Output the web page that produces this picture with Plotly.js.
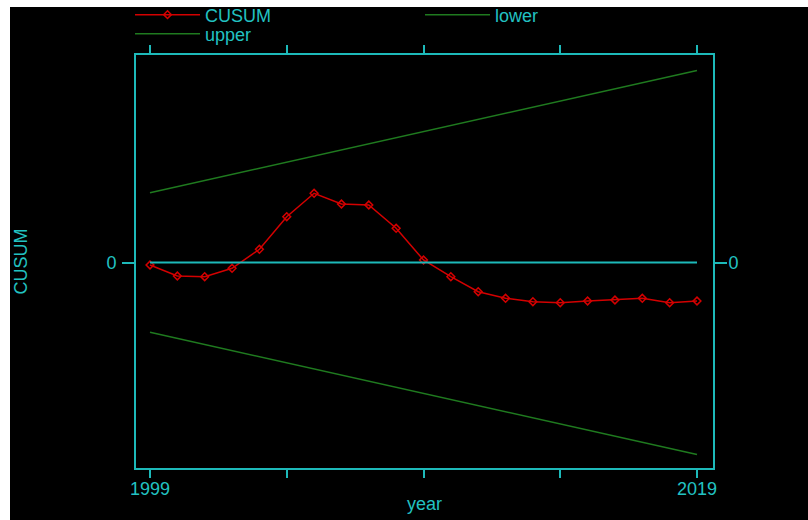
<!DOCTYPE html>
<html><head><meta charset="utf-8">
<script src="https://cdn.plot.ly/plotly-3.0.1.min.js"></script>
<style>
html,body{margin:0;padding:0;background:#fff;width:808px;height:520px;overflow:hidden}
#chart{position:absolute;left:10px;top:7px;width:798px;height:513px}
</style></head>
<body><div id="chart"></div>
<script>
const years = [1999,2000,2001,2002,2003,2004,2005,2006,2007,2008,2009,2010,2011,2012,2013,2014,2015,2016,2017,2018,2019];
const cusum = [-0.25,-1.35,-1.42,-0.58,1.32,4.58,6.92,5.85,5.75,3.42,0.25,-1.42,-2.92,-3.58,-3.92,-4.02,-3.85,-3.75,-3.58,-4.02,-3.85];
const boundYears = [1999, 2019];
const upper = [6.98, 19.2];
const lower = [-6.98, -19.2];
const zeroYears = [1999, 2019];
const zeroLine = [0, 0];
const xTickVals = [1999, 2004, 2009, 2014, 2019];
const xTickText = ['1999', '', '', '', '2019'];
const yTickVals = [0];
const yTickText = ['0'];
const yTitle = 'CUSUM';

const RED = '#d40000', GREEN = '#1f7a1f', CYAN = '#1db9b9', TXT = '#22c2c2';
const FONT = 'Liberation Sans, Arial, sans-serif';

const traces = [
  {x: years, y: cusum, name: 'CUSUM', type: 'scatter', mode: 'lines+markers',
   line: {color: RED, width: 1.5}, marker: {symbol: 'diamond-open', size: 6, color: RED, line: {width: 1.5}},
   legend: 'legend'},
  {x: boundYears, y: lower, name: 'lower', type: 'scatter', mode: 'lines',
   line: {color: GREEN, width: 1.5}, legend: 'legend2'},
  {x: boundYears, y: upper, name: 'upper', type: 'scatter', mode: 'lines',
   line: {color: GREEN, width: 1.5}, legend: 'legend3'},
  {x: zeroYears, y: zeroLine, type: 'scatter', mode: 'lines', yaxis: 'y2',
   line: {color: CYAN, width: 2}, showlegend: false, hoverinfo: 'skip'}
];

const yr = [-20.55, 20.75];
const legBase = {xref: 'container', yref: 'container', xanchor: 'left', yanchor: 'middle',
  bgcolor: 'rgba(0,0,0,0)', itemwidth: 65, font: {size: 18, color: TXT}};
const layout = {
  width: 798, height: 513,
  paper_bgcolor: '#000', plot_bgcolor: '#000',
  margin: {l: 126, r: 95, t: 48, b: 52, autoexpand: false},
  font: {family: FONT, size: 18, color: TXT},
  showlegend: true,
  xaxis: {range: [1998.488, 2019.585], tickvals: xTickVals, ticktext: xTickText,
    showline: true, linecolor: CYAN, linewidth: 2, mirror: 'ticks',
    ticks: 'outside', ticklen: 8, tickwidth: 2, tickcolor: CYAN, ticklabelstandoff: -5,
    showgrid: false, zeroline: false, tickfont: {size: 18, color: TXT},
    title: {text: 'year', font: {size: 18, color: TXT}, standoff: 0}},
  yaxis: {range: yr, tickvals: yTickVals, ticktext: yTickText,
    showline: true, linecolor: CYAN, linewidth: 2, mirror: 'ticks',
    ticks: 'outside', ticklen: 12, tickwidth: 2, tickcolor: CYAN, ticklabelstandoff: 2,
    showgrid: false, zeroline: false, tickfont: {size: 18, color: TXT}},
  yaxis2: {range: yr, overlaying: 'y', side: 'right', tickvals: yTickVals, ticktext: yTickText,
    showline: false, ticks: 'outside', ticklen: 8, tickwidth: 2, tickcolor: CYAN, ticklabelstandoff: 3,
    showgrid: false, zeroline: false, tickfont: {size: 18, color: TXT}},
  annotations: [{text: yTitle, xref: 'paper', yref: 'paper', x: 0, y: 0.5, xshift: -116,
    xanchor: 'center', yanchor: 'middle', textangle: -90, showarrow: false,
    font: {size: 18, color: TXT}}],
  legend: Object.assign({}, legBase, {x: 0.1504, y: 0.9845}),
  legend2: Object.assign({}, legBase, {x: 0.5138, y: 0.9845}),
  legend3: Object.assign({}, legBase, {x: 0.1504, y: 0.9473})
};

Plotly.newPlot('chart', traces, layout, {displayModeBar: false, staticPlot: true});
</script>
</body></html>
